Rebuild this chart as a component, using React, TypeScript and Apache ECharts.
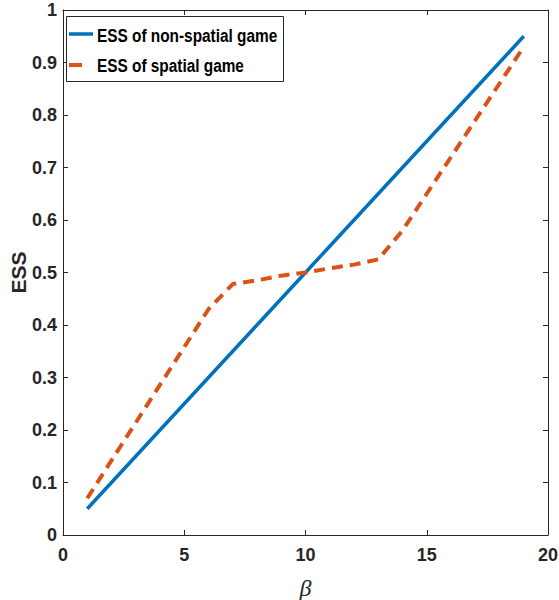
import React, { useEffect, useRef } from "react";
import * as echarts from "echarts";

const betas = [1, 2, 3, 4, 5, 6, 7, 8, 9, 10, 11, 12, 13, 14, 15, 16, 17, 18, 19];
const nonSpatial = [0.05, 0.1, 0.15, 0.2, 0.25, 0.3, 0.35, 0.4, 0.45, 0.5, 0.55, 0.6, 0.65, 0.7, 0.75, 0.8, 0.85, 0.9, 0.95];
const spatial = [0.07, 0.142, 0.214, 0.286, 0.358, 0.43, 0.478, 0.485, 0.494, 0.5, 0.508, 0.515, 0.525, 0.58, 0.65, 0.72, 0.79, 0.86, 0.93];
const seriesNames = ["ESS of non-spatial game", "ESS of spatial game"];
const seriesColors = ["#0072BD", "#D95319"];

const FONT = "'Liberation Sans', Arial, Helvetica, sans-serif";
const AX = "#262626";

export default function App() {
  const ref = useRef<HTMLDivElement>(null);
  useEffect(() => {
    if (!ref.current) return;
    const chart = echarts.init(ref.current, undefined, { renderer: "svg" });
    const hiddenAxis = {
      type: "value" as const,
      min: 0,
      axisLine: { show: true, onZero: false, lineStyle: { color: AX, width: 1 } },
      axisTick: { show: true, inside: true, length: 5, lineStyle: { color: AX } },
      axisLabel: { show: false },
      splitLine: { show: false },
    };
    const legendText = (text: string, y: number) => ({
      type: "text",
      x: 97,
      y,
      scaleX: 0.81,
      style: {
        text,
        x: 0,
        y: 0,
        align: "left",
        verticalAlign: "middle",
        fontFamily: FONT,
        fontSize: 19,
        fontWeight: "bold",
        fill: "#000",
      },
    });
    chart.setOption({
      animation: false,
      backgroundColor: "#ffffff",
      grid: { left: 63, right: 11, top: 10, bottom: 65, outerBoundsMode: "none", containLabel: false },
      graphic: [
        {
          type: "rect",
          shape: { x: 66.5, y: 16.5, width: 217, height: 65 },
          style: { fill: "#ffffff", stroke: AX, lineWidth: 1 },
          z: 100,
        },
        {
          type: "line",
          shape: { x1: 69, y1: 34, x2: 93, y2: 34 },
          style: { stroke: seriesColors[0], lineWidth: 3.5 },
          z: 101,
        },
        {
          type: "line",
          shape: { x1: 69, y1: 65, x2: 82, y2: 65 },
          style: { stroke: seriesColors[1], lineWidth: 4 },
          z: 101,
        },
        { ...legendText(seriesNames[0], 35), z: 101 },
        { ...legendText(seriesNames[1], 65), z: 101 },
      ],
      xAxis: [
        {
          type: "value",
          min: 0,
          max: 20,
          interval: 5,
          name: "β",
          nameLocation: "middle",
          nameGap: 41,
          nameMoveOverlap: false,
          nameTextStyle: { fontFamily: "'Liberation Serif', serif", fontStyle: "italic", fontSize: 24, color: AX },
          axisLine: { show: true, onZero: false, lineStyle: { color: AX, width: 1 } },
          axisTick: { show: true, inside: true, length: 5, lineStyle: { color: AX } },
          axisLabel: { fontFamily: FONT, fontSize: 18, fontWeight: "bold", color: AX, margin: 11 },
          splitLine: { show: false },
        },
        { ...hiddenAxis, max: 20, interval: 5, position: "top" },
      ],
      yAxis: [
        {
          type: "value",
          min: 0,
          max: 1,
          interval: 0.1,
          name: "ESS",
          nameLocation: "middle",
          nameGap: 34,
          nameMoveOverlap: false,
          nameTextStyle: { fontFamily: FONT, fontSize: 21, fontWeight: "bold", color: AX },
          axisLine: { show: true, onZero: false, lineStyle: { color: AX, width: 1 } },
          axisTick: { show: true, inside: true, length: 5, lineStyle: { color: AX } },
          axisLabel: { fontFamily: FONT, fontSize: 18, fontWeight: "bold", color: AX, margin: 6 },
          splitLine: { show: false },
        },
        { ...hiddenAxis, max: 1, interval: 0.1, position: "right" },
      ],
      series: [
        {
          name: seriesNames[0],
          type: "line",
          symbol: "none",
          data: betas.map((b, i) => [b, nonSpatial[i]]),
          lineStyle: { color: seriesColors[0], width: 3.5 },
          itemStyle: { color: seriesColors[0] },
        },
        {
          name: seriesNames[1],
          type: "line",
          symbol: "none",
          data: betas.map((b, i) => [b, spatial[i]]),
          lineStyle: { color: seriesColors[1], width: 4, type: [11, 7] },
          itemStyle: { color: seriesColors[1] },
        },
      ],
    });
    return () => chart.dispose();
  }, []);
  return <div ref={ref} style={{ position: "fixed", left: 0, top: 0, width: 559, height: 600 }} />;
}
